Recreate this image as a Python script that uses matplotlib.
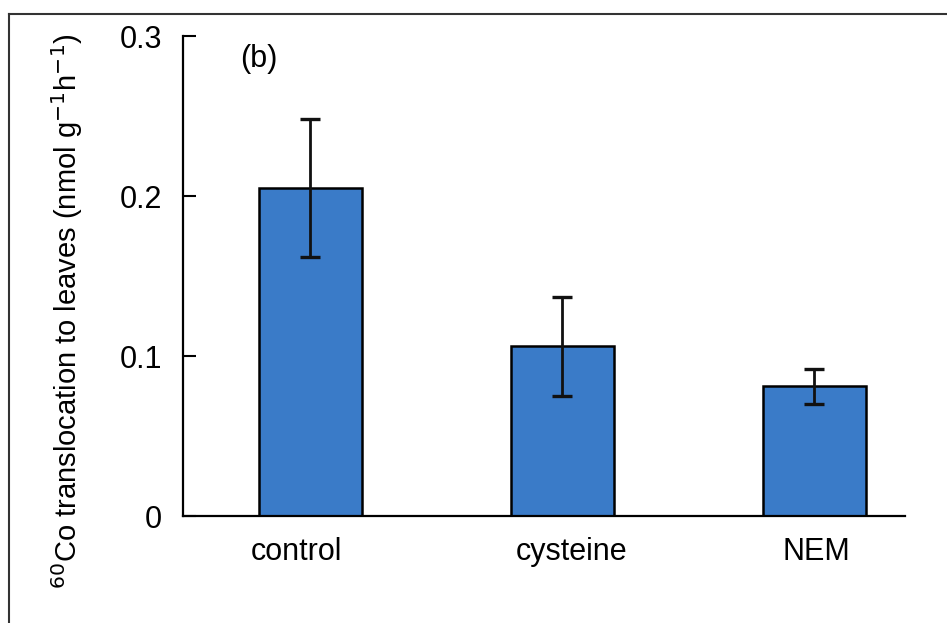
import matplotlib.pyplot as plt
import matplotlib.transforms as mtransforms
from matplotlib.lines import Line2D

plt.rcParams['font.family'] = ['Liberation Sans', 'DejaVu Sans']

treatments = ['control', 'cysteine', 'NEM']
translocation = [0.205, 0.106, 0.081]
err = [0.043, 0.031, 0.011]

fig = plt.figure(figsize=(9.47, 6.23), dpi=100)
ax = fig.add_axes([0.1932, 0.1717, 0.7625, 0.7705])

x = range(len(treatments))
ax.bar(x, translocation, width=0.41, color='#3a7bc8', edgecolor='black', linewidth=1.8,
       yerr=err, error_kw=dict(ecolor='#111111', elinewidth=2.0, capsize=7, capthick=2.4))

ax.set_xlim(-0.505, 2.36)
ax.set_ylim(0, 0.3)
ax.set_yticks([0, 0.1, 0.2, 0.3])
ax.set_yticklabels(['0', '0.1', '0.2', '0.3'])
ax.set_xticks(list(x))
ax.set_xticklabels(treatments)
ax.tick_params(axis='y', direction='in', length=9, width=1.5, labelsize=22, pad=15)
ax.tick_params(axis='x', length=0, labelsize=22, pad=15)
for s in ['top', 'right']:
    ax.spines[s].set_visible(False)
for s in ['left', 'bottom']:
    ax.spines[s].set_linewidth(1.6)

# category labels sit slightly off the bar centres
for lbl, dx in zip(ax.get_xticklabels(), [-10, 7, 1.5]):
    lbl.set_transform(lbl.get_transform() + mtransforms.ScaledTranslation(dx / 72, 0, fig.dpi_scale_trans))

ax.set_ylabel(r'$^{60}$Co translocation to leaves (nmol g$^{-1}$h$^{-1}$)', fontsize=21)
ax.yaxis.set_label_coords(-0.135, 0.427)
ax.text(0.079, 0.952, '(b)', transform=ax.transAxes, fontsize=22, ha='left', va='center')

# outer panel frame
fig.add_artist(Line2D([0.0095, 1.0], [0.977, 0.977], transform=fig.transFigure, color='#333333', lw=1.5))
fig.add_artist(Line2D([0.0095, 0.0095], [0.0, 0.977], transform=fig.transFigure, color='#333333', lw=1.5))

fig.savefig('out.png', dpi=100)
